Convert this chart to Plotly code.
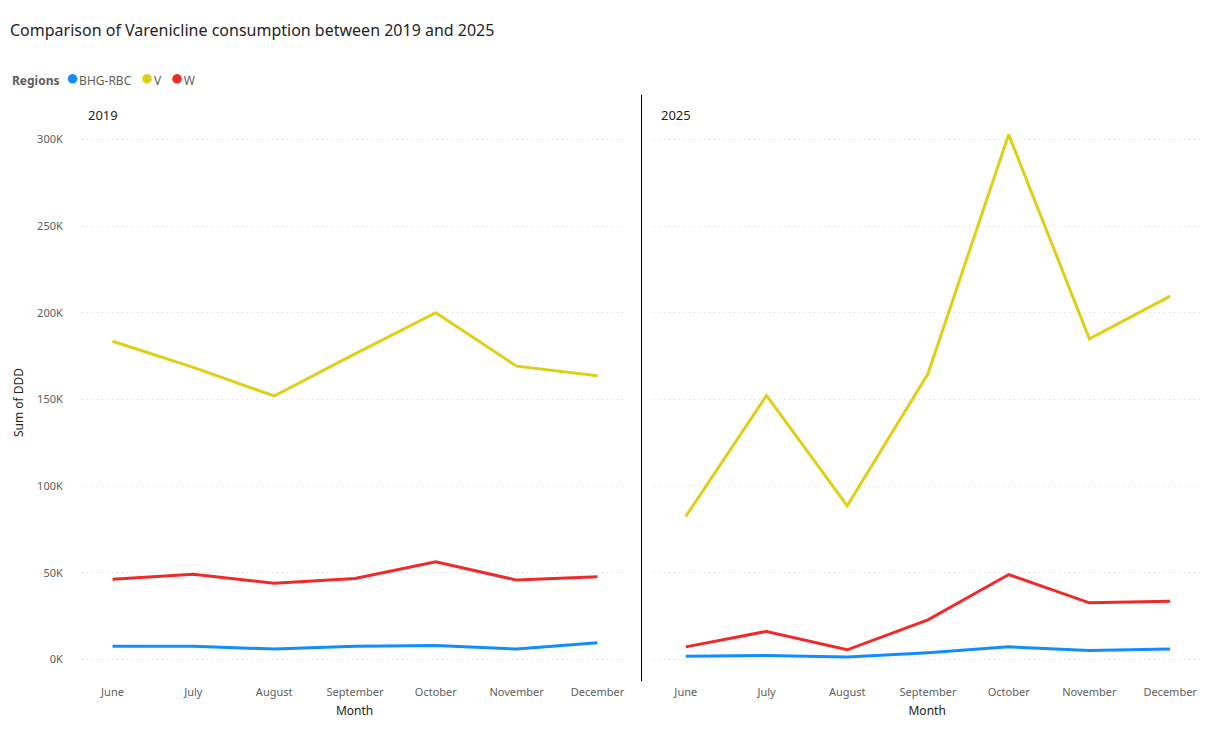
import plotly.graph_objects as go

# ---------------- data ----------------
months = ["June", "July", "August", "September", "October", "November", "December"]
regions = ["BHG-RBC", "V", "W"]

bhg_2019 = [7700, 7700, 6000, 7700, 8100, 6000, 9600]
v_2019 = [183600, 168500, 152000, 176300, 200000, 169200, 163700]
w_2019 = [46300, 49200, 44000, 46700, 56300, 45800, 47700]

bhg_2025 = [1900, 2300, 1500, 3900, 7300, 5200, 6000]
v_2025 = [82500, 152300, 88600, 164800, 302800, 185000, 209600]
w_2025 = [7300, 16200, 5600, 22900, 49000, 32700, 33600]

ytick_vals = [0, 50000, 100000, 150000, 200000, 250000, 300000]
ytick_text = ["0K", "50K", "100K", "150K", "200K", "250K", "300K"]

colors = {"BHG-RBC": "#118DFF", "V": "#DFCF16", "W": "#EE2A2A"}

# ---------------- layout helpers ----------------
OFF = 8  # page body margin
W, H = 1225 - OFF, 740 - OFF
FONT = "Noto Sans"
px_x = lambda p: (p - OFF) / W
px_y = lambda p: 1 - (p - OFF) / H

fig = go.Figure()

series = {
    ("2019", "BHG-RBC"): bhg_2019, ("2019", "V"): v_2019, ("2019", "W"): w_2019,
    ("2025", "BHG-RBC"): bhg_2025, ("2025", "V"): v_2025, ("2025", "W"): w_2025,
}

for (year, reg), vals in series.items():
    xa, ya = ("x", "y") if year == "2019" else ("x2", "y2")
    fig.add_trace(go.Scatter(
        x=months, y=vals, mode="lines", name=f"{reg} {year}",
        line=dict(color=colors[reg], width=3),
        xaxis=xa, yaxis=ya, showlegend=False,
    ))

ymin, ymax = -11820, 308300
axis_common = dict(
    showline=False, zeroline=False, ticks="",
    tickfont=dict(family=FONT, size=11, color="#605E5C"),
)
grid_common = dict(showgrid=True, gridcolor="#D9D9D9", griddash="1px,4px", gridwidth=1)

# legend drawn as a compact text line (Power BI style)
legend_items = [
    f"<span style='color:{colors[reg]};font-size:22px'>●</span>{reg}" for reg in regions
]
legend_text = "<b>Regions</b>&nbsp;&nbsp;" + "&nbsp;&nbsp;&nbsp;".join(legend_items)

fig.update_layout(
    width=W, height=H,
    margin=dict(l=0, r=0, t=0, b=0),
    paper_bgcolor="white", plot_bgcolor="white",
    font=dict(family=FONT),
    showlegend=False,
    title=dict(
        text="Comparison of Varenicline consumption between 2019 and 2025",
        x=px_x(10), xanchor="left", y=px_y(30), yanchor="middle",
        font=dict(family=FONT, size=16, color="#252423"),
    ),
    xaxis=dict(
        domain=[px_x(81.8), px_x(627.4)], range=[-0.38, 6.37],
        type="category", showgrid=False, ticklabelstandoff=4,
        title=dict(text="Month", font=dict(family=FONT, size=12, color="#252423"), standoff=8),
        **axis_common,
    ),
    yaxis=dict(
        domain=[px_y(680), px_y(125)], range=[ymin, ymax],
        tickvals=ytick_vals, ticktext=ytick_text, ticklabelstandoff=18,
        title=dict(text="Sum of DDD", font=dict(family=FONT, size=12, color="#252423"), standoff=10),
        **grid_common, **axis_common,
    ),
    xaxis2=dict(
        domain=[px_x(654.3), px_x(1200)], range=[-0.39, 6.37],
        type="category", showgrid=False, anchor="y2", ticklabelstandoff=4,
        title=dict(text="Month", font=dict(family=FONT, size=12, color="#252423"), standoff=8),
        **axis_common,
    ),
    yaxis2=dict(
        domain=[px_y(680), px_y(125)], range=[ymin, ymax], anchor="x2",
        tickvals=ytick_vals, showticklabels=False,
        **grid_common, **axis_common,
    ),
    shapes=[dict(
        type="line", xref="paper", yref="paper",
        x0=px_x(641.5), x1=px_x(641.5), y0=px_y(95), y1=px_y(681),
        line=dict(color="#000000", width=1),
    )],
    annotations=[
        dict(text=legend_text, x=px_x(10), y=px_y(76), xref="paper", yref="paper",
             xanchor="left", yanchor="middle", showarrow=False,
             font=dict(family=FONT, size=12, color="#605E5C")),
        dict(text="2019", x=px_x(86), y=px_y(115), xref="paper", yref="paper",
             xanchor="left", yanchor="middle", showarrow=False,
             font=dict(family=FONT, size=13, color="#252423")),
        dict(text="2025", x=px_x(659), y=px_y(115), xref="paper", yref="paper",
             xanchor="left", yanchor="middle", showarrow=False,
             font=dict(family=FONT, size=13, color="#252423")),
    ],
)

fig.write_html("out.html")
